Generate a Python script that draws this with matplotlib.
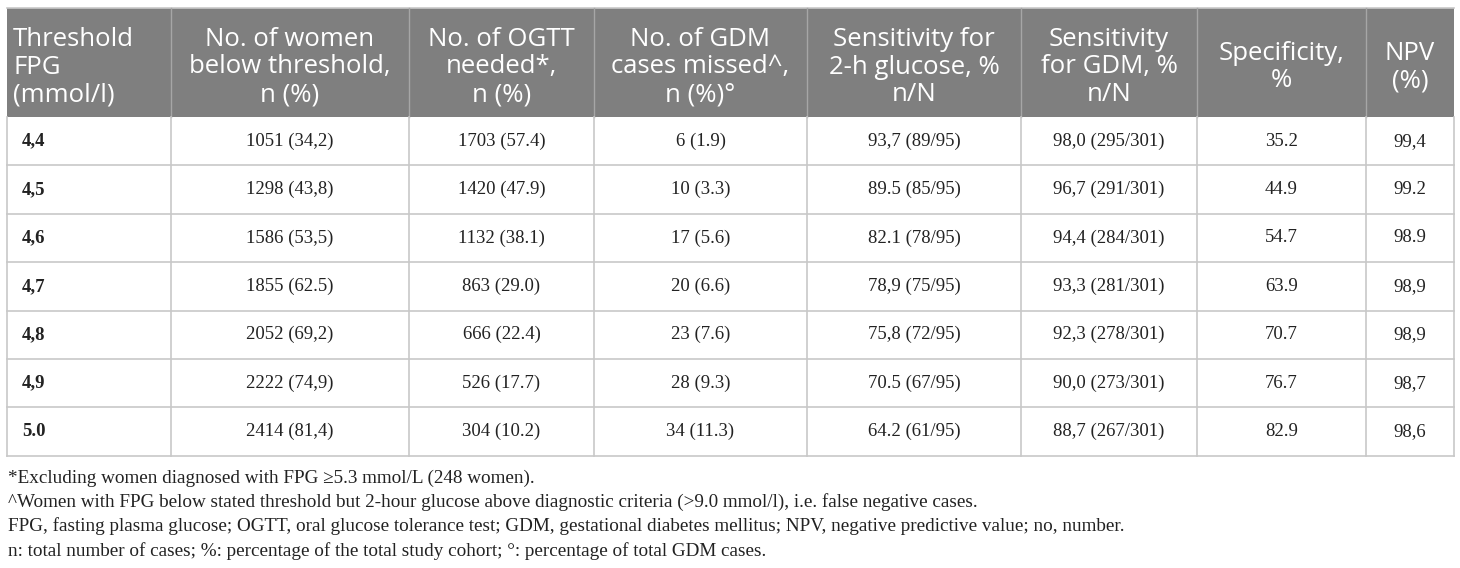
import matplotlib.pyplot as plt

# Dados da tabela
limiares = ['4,4', '4,5', '4,6', '4,7', '4,8', '4,9', '5.0']
mulheres_abaixo = ['1051 (34,2)', '1298 (43,8)', '1586 (53,5)', '1855 (62.5)',
                   '2052 (69,2)', '2222 (74,9)', '2414 (81,4)']
ogtt_necessarios = ['1703 (57.4)', '1420 (47.9)', '1132 (38.1)', '863 (29.0)',
                    '666 (22.4)', '526 (17.7)', '304 (10.2)']
gdm_perdidos = ['6 (1.9)', '10 (3.3)', '17 (5.6)', '20 (6.6)',
                '23 (7.6)', '28 (9.3)', '34 (11.3)']
sens_2h = ['93,7 (89/95)', '89.5 (85/95)', '82.1 (78/95)', '78,9 (75/95)',
           '75,8 (72/95)', '70.5 (67/95)', '64.2 (61/95)']
sens_gdm = ['98,0 (295/301)', '96,7 (291/301)', '94,4 (284/301)', '93,3 (281/301)',
            '92,3 (278/301)', '90,0 (273/301)', '88,7 (267/301)']
especificidade = ['35.2', '44.9', '54.7', '63.9', '70.7', '76.7', '82.9']
npv = ['99,4', '99.2', '98.9', '98,9', '98,9', '98,7', '98,6']

cabecalhos = [
    'Threshold\nFPG\n(mmol/l)',
    'No. of women\nbelow threshold,\nn (%)',
    'No. of OGTT\nneeded*,\nn (%)',
    'No. of GDM\ncases missed^,\nn (%)°',
    'Sensitivity for\n2-h glucose, %\nn/N',
    'Sensitivity\nfor GDM, %\nn/N',
    'Specificity,\n%',
    'NPV\n(%)',
]

notas = [
    '*Excluding women diagnosed with FPG ≥5.3 mmol/L (248 women).',
    '^Women with FPG below stated threshold but 2-hour glucose above diagnostic criteria (>9.0 mmol/l), i.e. false negative cases.',
    'FPG, fasting plasma glucose; OGTT, oral glucose tolerance test; GDM, gestational diabetes mellitus; NPV, negative predictive value; no, number.',
    'n: total number of cases; %: percentage of the total study cohort; °: percentage of total GDM cases.',
]

colunas = [limiares, mulheres_abaixo, ogtt_necessarios, gdm_perdidos,
           sens_2h, sens_gdm, especificidade, npv]

# Layout (pixels)
bordas_x = [7, 171, 409, 594, 807, 1021, 1197, 1366, 1454]
topo, fim_cab = 8, 117
altura_linha = 48.4
n_linhas = len(limiares)
fim_tab = fim_cab + altura_linha * n_linhas

cinza_cab = '#7f7f7f'
cor_grade = '#c8c8c8'

fig = plt.figure(figsize=(14.6, 5.68), dpi=100)
ax = fig.add_axes([0, 0, 1, 1])
ax.set_xlim(0, 1460)
ax.set_ylim(568, 0)
ax.axis('off')

# Cabeçalho
ax.fill_between([bordas_x[0], bordas_x[-1]], topo, fim_cab, color=cinza_cab, lw=0)
ax.plot([bordas_x[0], bordas_x[-1]], [topo, topo], color=cor_grade, lw=1.2)
for x in bordas_x[1:-1]:
    ax.plot([x, x], [topo, fim_cab], color='#a6a6a6', lw=1.0)

centro_cab = 67
for i, txt in enumerate(cabecalhos):
    if i == 0:
        ax.text(bordas_x[0] + 6, centro_cab, txt, ha='left', va='center',
                fontsize=18.5, color='white', family='Open Sans', linespacing=1.15)
    else:
        ax.text((bordas_x[i] + bordas_x[i + 1]) / 2, centro_cab, txt, ha='center',
                va='center', fontsize=18.5, color='white', family='Open Sans',
                linespacing=1.15, multialignment='center')

# Grade do corpo
for k in range(1, n_linhas + 1):
    y = fim_cab + altura_linha * k
    ax.plot([bordas_x[0], bordas_x[-1]], [y, y], color=cor_grade, lw=1.2)
for x in bordas_x:
    ax.plot([x, x], [fim_cab, fim_tab], color=cor_grade, lw=1.2)

# Células
for j, valores in enumerate(colunas):
    for k, val in enumerate(valores):
        y = fim_cab + altura_linha * (k + 0.5)
        if j == 0:
            ax.text(bordas_x[0] + 15, y, val, ha='left', va='center', fontsize=13.5,
                    family='Liberation Serif', weight='bold', color='#222222')
        else:
            ax.text((bordas_x[j] + bordas_x[j + 1]) / 2, y, val, ha='center',
                    va='center', fontsize=13.5, family='Liberation Serif', color='#222222')

# Notas de rodapé
for k, nota in enumerate(notas):
    ax.text(8, 478 + 24.2 * k, nota, ha='left', va='center', fontsize=13.8,
            family='Liberation Serif', color='#222222')

fig.savefig('out.png', dpi=100)
plt.close(fig)
